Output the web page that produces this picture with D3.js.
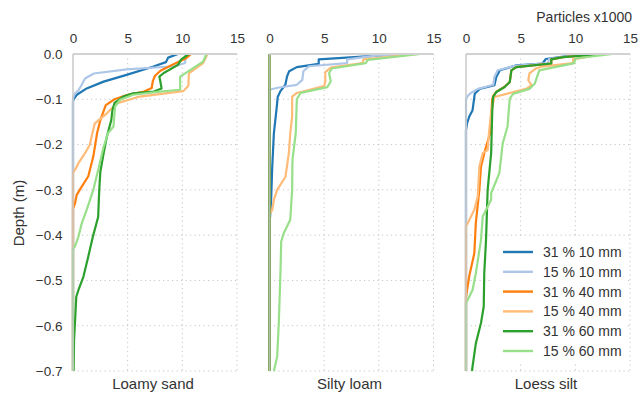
<!DOCTYPE html>
<html>
<head>
<meta charset="utf-8">
<script src="https://cdn.jsdelivr.net/npm/d3@7"></script>
<style>
  html, body { margin: 0; padding: 0; background: #fff; }
  svg { display: block; font-family: "Liberation Sans", Arial, sans-serif; }
  .tick text { fill: #333; font-size: 13.5px; }
  .domain { display: none; }
</style>
</head>
<body>
<div id="chart"></div>
<script>
// soil panels and series (depth profiles: [particles x1000, depth m])
const SOILS = ["Loamy sand", "Silty loam", "Loess silt"];
const SERIES = ["31 % 10 mm", "15 % 10 mm", "31 % 40 mm", "15 % 40 mm", "31 % 60 mm", "15 % 60 mm"];
const COLORS = ["#1f77b4", "#aec7e8", "#ff7f0e", "#ffbb78", "#2ca02c", "#98df8a"];
const X_TICKS = [0, 5, 10, 15];
const Y_TICKS = [0, -0.1, -0.2, -0.3, -0.4, -0.5, -0.6, -0.7];

// Loamy sand
const ls31_10 = [[9.6,0],[8.7,-0.008],[8.5,-0.018],[7.3,-0.028],[4.9,-0.046],[2.8,-0.061],[1.25,-0.076],[0.35,-0.09],[0.05,-0.1],[0,-0.105],[0,-0.7]];
const ls15_10 = [[10.3,0],[10.25,-0.02],[9.3,-0.027],[4.9,-0.034],[1.9,-0.043],[1.1,-0.054],[0.8,-0.068],[0.5,-0.08],[0.15,-0.088],[0,-0.098],[0,-0.7]];
const ls31_40 = [[10.8,0],[10.3,-0.01],[9.0,-0.025],[8.0,-0.037],[7.5,-0.048],[7.3,-0.06],[7.2,-0.075],[6.5,-0.083],[5.0,-0.09],[3.8,-0.1],[3.0,-0.113],[2.5,-0.146],[2.2,-0.175],[1.86,-0.226],[1.4,-0.27],[0.8,-0.293],[0.34,-0.311],[0.18,-0.33],[0,-0.342],[0,-0.7]];
const ls15_40 = [[12.3,0],[11.9,-0.02],[10.6,-0.043],[10.55,-0.07],[10.1,-0.082],[6.1,-0.094],[4.0,-0.109],[3.1,-0.131],[2.0,-0.153],[1.7,-0.182],[1.55,-0.2],[1.1,-0.219],[0.5,-0.241],[0.18,-0.256],[0,-0.262],[0,-0.7]];
const ls31_60 = [[10.6,0],[9.9,-0.012],[9.6,-0.024],[8.3,-0.042],[7.9,-0.05],[8.0,-0.062],[8.1,-0.076],[7.4,-0.083],[5.5,-0.087],[4.6,-0.094],[3.8,-0.108],[3.6,-0.125],[3.5,-0.146],[3.1,-0.182],[2.8,-0.219],[2.5,-0.26],[2.4,-0.3],[2.3,-0.36],[1.8,-0.405],[1.4,-0.447],[0.95,-0.492],[0.5,-0.521],[0.3,-0.536],[0.18,-0.594],[0.1,-0.63],[0.05,-0.7]];
const ls15_60 = [[12.2,0],[11.9,-0.017],[9.8,-0.05],[9.8,-0.079],[7.96,-0.083],[5.5,-0.09],[4.3,-0.101],[3.85,-0.116],[3.7,-0.16],[3.2,-0.175],[2.8,-0.205],[2.3,-0.256],[1.86,-0.3],[1.25,-0.344],[0.8,-0.374],[0.5,-0.403],[0.18,-0.425],[0,-0.43],[0,-0.7]];

// Silty loam
const sl31_10 = [[12.5,0],[10.3,-0.003],[4.5,-0.012],[4.5,-0.022],[2.5,-0.029],[1.8,-0.038],[1.6,-0.05],[1.45,-0.068],[1.0,-0.082],[0.75,-0.095],[0.65,-0.12],[0.4,-0.175],[0.25,-0.249],[0.15,-0.322],[0.05,-0.36],[0,-0.37],[0,-0.7]];
const sl15_10 = [[13,0],[9.5,-0.004],[7.1,-0.012],[7.1,-0.02],[3.6,-0.027],[3.1,-0.038],[3.0,-0.057],[2.5,-0.068],[0.85,-0.074],[0,-0.079],[0,-0.7]];
const sl31_40 = [[0,0],[0,-0.7]];
const sl15_40 = [[13.5,0],[8.6,-0.012],[8.5,-0.02],[5.6,-0.03],[5.1,-0.04],[5.1,-0.06],[5.0,-0.071],[2.5,-0.086],[2.07,-0.094],[2.07,-0.138],[1.9,-0.175],[1.77,-0.219],[1.46,-0.271],[0.7,-0.3],[0.4,-0.322],[0.25,-0.344],[0,-0.355],[0,-0.7]];
const sl31_60 = [[0,0],[0,-0.7]];
const sl15_60 = [[13.8,0],[9.0,-0.013],[8.8,-0.02],[5.7,-0.032],[5.45,-0.042],[5.6,-0.06],[5.3,-0.073],[2.84,-0.086],[2.5,-0.1],[2.4,-0.175],[2.1,-0.234],[2.07,-0.3],[1.9,-0.366],[1.3,-0.396],[1.07,-0.414],[1.0,-0.484],[0.85,-0.594],[0.7,-0.668],[0.4,-0.7]];

// Loess silt
const le31_10 = [[10.5,0],[7.3,-0.011],[7.0,-0.021],[4.6,-0.025],[3.1,-0.036],[2.77,-0.051],[2.6,-0.069],[1.25,-0.077],[0.8,-0.088],[0.6,-0.124],[0.3,-0.138],[0.1,-0.153],[0,-0.168],[0,-0.7]];
const le15_10 = [[10.5,0],[7.6,-0.011],[7.5,-0.02],[4.5,-0.026],[2.9,-0.036],[2.6,-0.05],[2.5,-0.068],[1.1,-0.077],[0.5,-0.085],[0.18,-0.092],[0,-0.1],[0,-0.7]];
const le31_40 = [[12.5,0],[8.9,-0.007],[7.8,-0.012],[7.8,-0.021],[4.6,-0.029],[4.15,-0.036],[4.0,-0.062],[3.5,-0.073],[2.75,-0.084],[2.5,-0.092],[2.4,-0.1],[2.2,-0.175],[1.67,-0.219],[1.37,-0.249],[1.22,-0.3],[0.9,-0.373],[0.76,-0.44],[0.3,-0.49],[0,-0.536],[0,-0.7]];
const le15_40 = [[12.5,0],[9.8,-0.012],[9.8,-0.02],[6.9,-0.028],[6.4,-0.032],[5.8,-0.043],[5.7,-0.058],[6.0,-0.069],[5.5,-0.077],[3.7,-0.088],[2.6,-0.095],[2.3,-0.128],[2.1,-0.175],[1.98,-0.212],[1.53,-0.219],[1.22,-0.249],[1.07,-0.315],[0.76,-0.344],[0.15,-0.374],[0,-0.38],[0,-0.7]];
const le31_60 = [[12.5,0],[8.9,-0.007],[7.8,-0.012],[7.8,-0.021],[4.6,-0.029],[4.15,-0.036],[4.0,-0.062],[3.54,-0.073],[2.77,-0.084],[2.47,-0.095],[2.4,-0.128],[2.3,-0.219],[1.98,-0.3],[1.83,-0.411],[1.67,-0.484],[1.62,-0.558],[1.37,-0.594],[0.9,-0.639],[0.6,-0.69],[0.55,-0.7]];
const le15_60 = [[13.4,0],[10,-0.01],[9.9,-0.02],[6.7,-0.036],[6.3,-0.065],[5.8,-0.077],[4.3,-0.088],[4.0,-0.099],[3.9,-0.128],[3.8,-0.16],[3.36,-0.197],[3.05,-0.263],[2.3,-0.307],[2.3,-0.322],[1.53,-0.359],[1.37,-0.411],[0.9,-0.484],[0.6,-0.521],[0.15,-0.543],[0,-0.55],[0,-0.7]];

const PROFILES = [
  [ls31_10, ls15_10, ls31_40, ls15_40, ls31_60, ls15_60],
  [sl31_10, sl15_10, sl31_40, sl15_40, sl31_60, sl15_60],
  [le31_10, le15_10, le31_40, le15_40, le31_60, le15_60]
];

(function () {
  const W = 638, H = 394;
  const plotLeft = 73, plotTop = 54, panelW = 164, gap = 32.5, panelH = 317;
  const TEXT = "#333";

  const svg = d3.select("#chart").append("svg").attr("width", W).attr("height", H);

  const y = d3.scaleLinear().domain([0, -0.7]).range([plotTop, plotTop + panelH]);
  const line = d3.line();

  SOILS.forEach((soil, p) => {
    const x0 = plotLeft + p * (panelW + gap);
    const x = d3.scaleLinear().domain([0, 15]).range([x0, x0 + panelW]);
    const g = svg.append("g");

    // dotted grid
    g.selectAll(".gx").data(X_TICKS.slice(1)).join("line")
      .attr("x1", d => x(d)).attr("x2", d => x(d))
      .attr("y1", plotTop).attr("y2", plotTop + panelH)
      .attr("stroke", "#c4c4c4").attr("stroke-width", 1).attr("stroke-dasharray", "1.2,3.3");
    g.selectAll(".gy").data(Y_TICKS.slice(1)).join("line")
      .attr("x1", x0).attr("x2", x0 + panelW)
      .attr("y1", d => y(d)).attr("y2", d => y(d))
      .attr("stroke", "#c4c4c4").attr("stroke-width", 1).attr("stroke-dasharray", "1.2,3.3");

    // profiles
    PROFILES[p].forEach((data, i) => {
      g.append("path")
        .attr("d", line(data.map(d => [x(d[0]), y(d[1])])))
        .attr("fill", "none").attr("stroke", COLORS[i])
        .attr("stroke-width", 2.2).attr("stroke-linejoin", "round");
    });

    // spines
    g.append("line").attr("x1", x0).attr("x2", x0 + panelW).attr("y1", plotTop).attr("y2", plotTop)
      .attr("stroke", "#d2d2d2").attr("stroke-width", 2);
    g.append("line").attr("x1", x0).attr("x2", x0).attr("y1", plotTop).attr("y2", plotTop + panelH)
      .attr("stroke", "#c3c3c3").attr("stroke-width", 1.6).attr("stroke-opacity", 0.85);

    // top axis
    svg.append("g").attr("transform", `translate(0,${plotTop})`)
      .call(d3.axisTop(x).tickValues(X_TICKS).tickSize(0).tickPadding(11).tickFormat(d3.format("d")));

    svg.append("text").attr("x", x0 + panelW / 2 - 2).attr("y", 389)
      .attr("text-anchor", "middle").attr("fill", TEXT).attr("font-size", 15).text(soil);

    if (p === 0) {
      svg.append("g").attr("transform", `translate(${x0},0)`)
        .call(d3.axisLeft(y).tickValues(Y_TICKS).tickSize(0).tickPadding(10.5).tickFormat(d3.format(".1f")));
    }

    if (p === 2) {
      const lg = svg.append("g");
      lg.append("rect").attr("x", x0 + 27).attr("y", 238).attr("width", 135).attr("height", 124).attr("fill", "#fff");
      SERIES.forEach((s, i) => {
        const ly = 252 + i * 19.8;
        lg.append("line").attr("x1", x0 + 37).attr("x2", x0 + 67).attr("y1", ly).attr("y2", ly)
          .attr("stroke", COLORS[i]).attr("stroke-width", 2.4);
        lg.append("text").attr("x", x0 + 77).attr("y", ly).attr("dy", "0.35em")
          .attr("fill", TEXT).attr("font-size", 14).text(s);
      });
    }
  });

  svg.append("text").attr("x", 632).attr("y", 22).attr("text-anchor", "end")
    .attr("fill", TEXT).attr("font-size", 14).text("Particles x1000");

  svg.append("text").attr("transform", "translate(24,213) rotate(-90)")
    .attr("text-anchor", "middle").attr("fill", TEXT).attr("font-size", 15).text("Depth (m)");
})();
</script>
</body>
</html>
